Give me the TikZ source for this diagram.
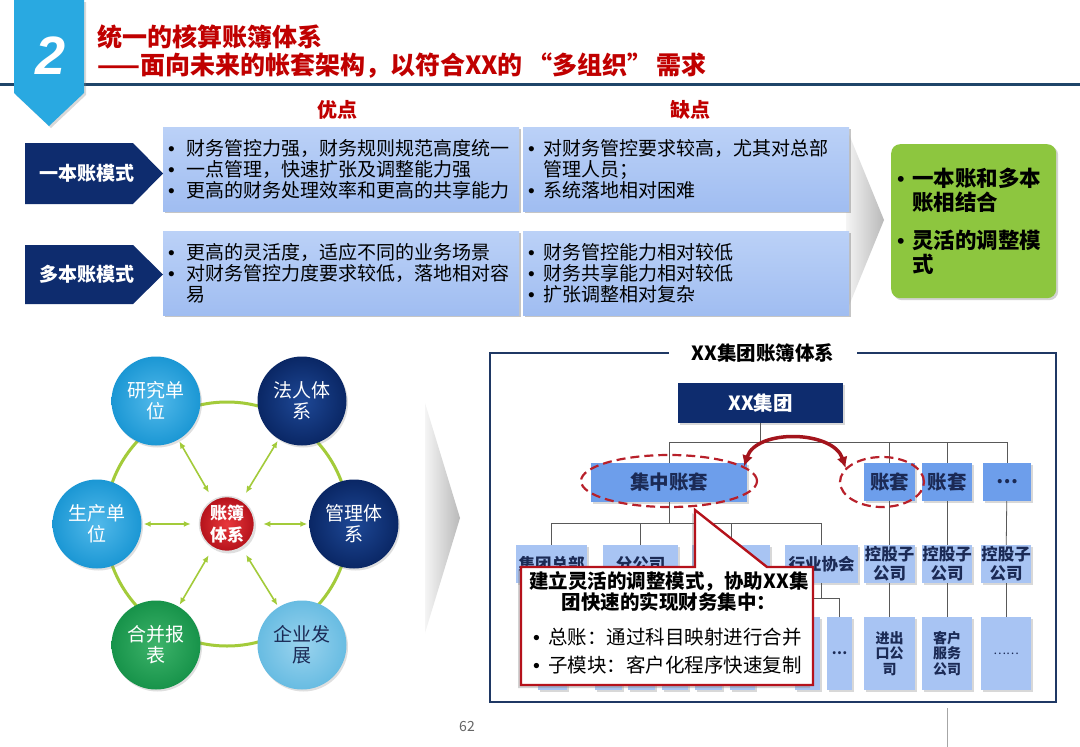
\documentclass[tikz,border=0pt]{standalone}
\usepackage{fontspec}
\setmainfont{Noto Sans CJK SC}
\newfontfamily\digitfont{Liberation Sans}
\usetikzlibrary{arrows.meta,shapes.geometric,shadows,positioning}

\definecolor{tabblue}{HTML}{29A9E1}
\definecolor{rulenavy}{HTML}{1F4569}
\definecolor{headred}{HTML}{C00000}
\definecolor{deepnavy}{HTML}{0E2C6E}
\definecolor{framenavy}{HTML}{1F3864}
\definecolor{paletop}{HTML}{BBD1F7}
\definecolor{palebot}{HTML}{A0BDF1}
\definecolor{lime}{HTML}{8DC63F}
\definecolor{ringgreen}{HTML}{A3CB3A}
\definecolor{skyblue}{HTML}{1B97D4}
\definecolor{skyhi}{HTML}{52B9EA}
\definecolor{navyball}{HTML}{0A2765}
\definecolor{navyhi}{HTML}{1E4896}
\definecolor{greenball}{HTML}{17934A}
\definecolor{greenhi}{HTML}{3DB36A}
\definecolor{paleball}{HTML}{68BCE2}
\definecolor{palehi}{HTML}{9AD3EE}
\definecolor{redball}{HTML}{B5121B}
\definecolor{redhi}{HTML}{E8383C}
\definecolor{cornflower}{HTML}{6D9EEB}
\definecolor{paleorg}{HTML}{A8C4F3}
\definecolor{inknavy}{HTML}{1B2A55}
\definecolor{dashred}{HTML}{B8202A}
\definecolor{arrowred}{HTML}{A3141C}

\newcommand{\dotbox}[1]{\makebox[#1][l]{\digitfont\mdseries •}}
\newcommand{\gapbox}[1]{\hspace*{#1}}

\begin{document}
\begin{tikzpicture}[x=1pt,y=-1pt,
  headline/.style={anchor=west, inner sep=0pt, text=headred,
    font=\bfseries\fontsize{25}{28}\selectfont},
  colhead/.style={inner sep=0pt, text=headred,
    font=\bfseries\fontsize{20}{22}\selectfont},
  probox/.style={anchor=north west, top color=paletop, bottom color=palebot,
    drop shadow={shadow xshift=2pt, shadow yshift=-2pt, opacity=.45},
    minimum height=84pt, inner xsep=5pt, inner ysep=0pt, align=left,
    font=\fontsize{19}{21}\selectfont},
  tagtext/.style={text=white, inner sep=0pt,
    font=\bfseries\fontsize{19}{21}\selectfont},
  verdict/.style={anchor=north west, fill=lime, rounded corners=9pt,
    drop shadow={shadow xshift=2pt, shadow yshift=-2pt, opacity=.35},
    minimum width=165pt, minimum height=154pt, text width=153pt,
    inner xsep=6pt, align=left, font=\bfseries\fontsize{21.5}{24}\selectfont},
  chevron/.style={left color=gray!8, right color=gray!55},
  orb/.style={circle, minimum size=89pt, inner sep=0pt, align=center,
    text=white, font=\fontsize{19}{21}\selectfont,
    drop shadow={shadow xshift=1.5pt, shadow yshift=-2pt, opacity=.25}},
  ringline/.style={ringgreen, line width=3pt},
  spoke/.style={{Latex[length=7pt,width=6pt]}-{Latex[length=7pt,width=6pt]},
    ringgreen, line width=1.6pt, shorten <=8pt, shorten >=2pt},
  orgtop/.style={fill=deepnavy, text=white, inner sep=0pt,
    drop shadow={shadow xshift=2pt, shadow yshift=-2pt, opacity=.3},
    font=\bfseries\fontsize{19.5}{21}\selectfont},
  acct/.style={fill=cornflower, text=inknavy, inner sep=0pt,
    drop shadow={shadow xshift=1.5pt, shadow yshift=-1.5pt, opacity=.3},
    font=\bfseries\fontsize{19.5}{21}\selectfont},
  unit/.style={fill=paleorg, text=inknavy, inner sep=0pt, align=center,
    drop shadow={shadow xshift=1.5pt, shadow yshift=-1.5pt, opacity=.3},
    font=\bfseries\fontsize{16.5}{19}\selectfont},
  leaf/.style={unit, minimum height=73pt, font=\bfseries\fontsize{14}{15.5}\selectfont},
  wire/.style={draw=black!65, line width=0.8pt},
  dashring/.style={ellipse, draw=dashred, line width=2.2pt,
    dash pattern=on 9pt off 5pt, inner sep=0pt},
  swing/.style={{Latex[length=11pt,width=11pt]}-{Latex[length=11pt,width=11pt]},
    arrowred, line width=3.5pt},
  callout/.style={fill=white, draw=redball, line width=2.4pt,
    drop shadow={shadow xshift=-3pt, shadow yshift=-3pt, opacity=.35}}
]
\useasboundingbox (0,0) rectangle (1080,747);
\fill[white] (0,0) rectangle (1080,747);

% 标题栏
\draw[rulenavy, line width=3pt] (0,84) -- (1080,84);
\fill[tabblue, drop shadow={shadow xshift=2pt, shadow yshift=-2pt, opacity=.3}]
  (14,0) -- (84,0) -- (84,93) -- (49,126) -- (14,93) -- cycle;
\node[text=white, inner sep=0pt,
  font=\digitfont\bfseries\itshape\fontsize{54}{54}\selectfont] (num) at (51,56) {2};
\node[headline] (title) at (97,37) {统一的核算账簿体系};
\node[headline] (subtitle) at (97,66) {——面向未来的帐套架构，以符合XX的\,“多组织”\,需求};

\node[colhead] (pros) at (337,110) {优点};
\node[colhead] (cons) at (690,110) {缺点};

% 优缺点对比
\shade[chevron] (846,127) -- (884,220) -- (846,313) -- cycle;

\node[probox, text width=346pt] (pro1) at (163,127)
  {\dotbox{18pt}财务管控力强，财务规则规范高度统一\\
   \dotbox{18pt}一点管理，快速扩张及调整能力强\\
   \dotbox{18pt}更高的财务处理效率和更高的共享能力};
\node[probox, text width=316pt] (con1) at (523,127)
  {\dotbox{15pt}对财务管控要求较高，尤其对总部\\
   \gapbox{15pt}管理人员；\\
   \dotbox{15pt}系统落地相对困难};
\node[probox, text width=346pt] (pro2) at (163,231)
  {\dotbox{18pt}更高的灵活度，适应不同的业务场景\\
   \dotbox{18pt}对财务管控力度要求较低，落地相对容\\
   \gapbox{18pt}易};
\node[probox, text width=316pt] (con2) at (523,231)
  {\dotbox{15pt}财务管控能力相对较低\\
   \dotbox{15pt}财务共享能力相对较低\\
   \dotbox{15pt}扩张调整相对复杂};

% 模式标签
\fill[deepnavy] (25,143) -- (133,143) -- (163,173.5) -- (133,204) -- (25,204) -- cycle;
\node[tagtext] (tag1) at (87,173.5) {一本账模式};
\fill[deepnavy] (25,245) -- (133,245) -- (163,274.5) -- (133,304) -- (25,304) -- cycle;
\node[tagtext] (tag2) at (87,274.5) {多本账模式};

\node[verdict] (mix) at (891,144)
  {\dotbox{15pt}一本账和多本\\
   \gapbox{15pt}账相结合\\[14pt]
   \dotbox{15pt}灵活的调整模\\
   \gapbox{15pt}式};

% 账簿体系环
\coordinate (mid) at (227,524);
\draw[ringline] (mid) circle[radius=122pt];

\node[orb, inner color=skyhi, outer color=skyblue] (yanjiu) at (156,401) {研究单\\位};
\node[orb, inner color=navyhi, outer color=navyball] (faren) at (302,401) {法人体\\系};
\node[orb, inner color=skyhi, outer color=skyblue] (shengchan) at (97,524) {生产单\\位};
\node[orb, inner color=navyhi, outer color=navyball] (guanli) at (354,524) {管理体\\系};
\node[orb, inner color=greenhi, outer color=greenball] (hebing) at (156,645) {合并报\\表};
\node[orb, inner color=palehi, outer color=paleball, text=inknavy] (qiye) at (302,645) {企业发\\展};
\node[orb, minimum size=55pt, inner color=redhi, outer color=redball,
  draw=white!75!gray, line width=1.5pt,
  font=\bfseries\fontsize{17}{22}\selectfont] (core) at (mid) {账簿\\体系};

\foreach \o in {yanjiu,faren,shengchan,guanli,hebing,qiye}
  \draw[spoke] (core) -- (\o);

\shade[chevron] (425,403) -- (460,518) -- (425,633) -- cycle;

% XX集团账簿体系
\draw[framenavy, line width=2.5pt] (490,353) rectangle (1056,702);
\node[fill=white, inner xsep=23pt, inner ysep=2pt,
  font=\bfseries\fontsize{19.5}{21}\selectfont] (paneltitle) at (763,353) {XX集团账簿体系};

\node[orgtop, minimum width=165pt, minimum height=40pt] (grp) at (760.5,403) {XX集团};

\node[acct, minimum width=156pt, minimum height=39pt] (cz) at (669,482.5) {集中账套};
\node[acct, minimum width=51pt, minimum height=38pt] (zt1) at (889.5,482) {账套};
\node[acct, minimum width=50pt, minimum height=38pt] (zt2) at (947,482) {账套};
\node[acct, minimum width=48pt, minimum height=38pt] (zt3) at (1007,482) {…};

\node[unit, minimum width=71pt, minimum height=38pt] (hq) at (551.5,564) {集团总部};
\node[unit, minimum width=75pt, minimum height=38pt] (br) at (640.5,564) {分公司};
\node[unit, minimum width=78pt, minimum height=38pt] (sub) at (731,564) {子公司};
\node[unit, minimum width=73pt, minimum height=38pt] (assoc) at (821.5,564) {行业协会};
\node[unit, minimum width=51pt, minimum height=38pt] (kg1) at (889.5,564) {控股子\\公司};
\node[unit, minimum width=50pt, minimum height=38pt] (kg2) at (947,564) {控股子\\公司};
\node[unit, minimum width=50pt, minimum height=38pt] (kg3) at (1006,564) {控股子\\公司};

\foreach \n/\x/\w in {c1/552.5/29,c2/608.5/27,c3/641.5/27,c4/675/26,
                      c5/708.5/27,c6/742.5/25,c7/807.5/25}
  \node[leaf, minimum width=\w pt] (\n) at (\x,653.5) {};
\node[leaf, minimum width=25pt] (c8) at (839.5,653.5) {…};
\node[leaf, minimum width=51pt] (jc) at (889.5,653.5) {进出\\口公\\司};
\node[leaf, minimum width=50pt] (kh) at (947,653.5) {客户\\服务\\公司};
\node[leaf, minimum width=50pt, font=\fontsize{12}{14}\selectfont] (more) at (1006,653.5) {……};

\foreach \n in {cz,zt1,zt2,zt3}
  \draw[wire] (grp.south) -- ++(0,19) -| (\n.north);
\foreach \n in {hq,br,sub,assoc}
  \draw[wire] (cz.south) -- ++(0,21.5) -| (\n.north);
\draw[wire] (zt1) -- (kg1);
\draw[wire] (zt2) -- (kg2);
\draw[wire] (zt3) -- (kg3);
\draw[wire] (kg1) -- (jc);
\draw[wire] (kg2) -- (kh);
\draw[wire] (kg3) -- (more);
\foreach \n in {c7,c8}
  \draw[wire] (assoc.south) -- ++(0,15) -| (\n.north);
\coordinate (tail) at (947,708);
\draw[black!35, line width=0.8pt] (tail) -- ++(0,39);

% 虚线圈与调整箭头
\node[dashring, minimum width=176pt, minimum height=52pt] (czring) at (669,481) {};
\node[dashring, minimum width=84pt, minimum height=50pt] (ztring) at (882,482) {};
\draw[swing] (czring.11) to[out=72,in=108] (ztring.159);

% 说明框
\filldraw[callout] (521,567) -- (695,567) -- (695,510) -- (767,567)
  -- (813,567) -- (813,685) -- (521,685) -- cycle;
\node[inner sep=0pt, align=center,
  font=\bfseries\fontsize{19.5}{19.5}\selectfont] (notehead) at (669,591)
  {建立灵活的调整模式，协助XX集\\团快速的实现财务集中：};
\node[anchor=west, inner sep=0pt, align=left,
  font=\fontsize{19.5}{28}\selectfont] (notelist) at (533,651)
  {\dotbox{15pt}总账：通过科目映射进行合并\\
   \dotbox{15pt}子模块：客户化程序快速复制};

\node[inner sep=0pt, text=black!60, font=\fontsize{14}{16}\selectfont] (pageno) at (467,727) {62};
\end{tikzpicture}
\end{document}
